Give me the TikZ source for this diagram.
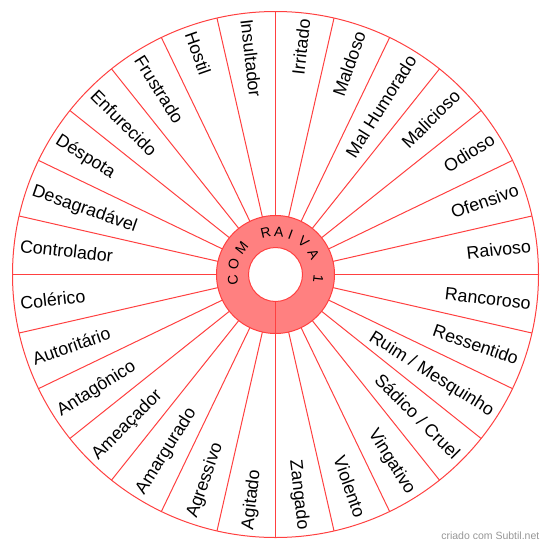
\documentclass[tikz,border=0pt]{standalone}
\usepackage{fontspec}
\setmainfont{Liberation Sans}
\usetikzlibrary{calc}
\definecolor{wline}{RGB}{255,64,64}
\definecolor{wfill}{RGB}{255,128,128}
\definecolor{wmark}{RGB}{150,150,150}
\tikzset{
  spoke/.style={draw=wline, line width=1pt},
  rim/.style={draw=wline, line width=1pt},
  lbl/.style={inner sep=0pt, font=\fontsize{17.8}{20}\selectfont, text height=12.6pt, text depth=0pt},
  ringletter/.style={inner sep=0pt, font=\fontsize{14}{16}\selectfont}
}
\begin{document}
\begin{tikzpicture}[x=1pt,y=1pt]
\useasboundingbox (0,0) rectangle (550,-560);
\coordinate (c) at (275.5,-274.5);
% outer rim
\draw[rim] (c) circle (263);
% spokes
\foreach \k in {0,...,27}{
  \pgfmathsetmacro{\a}{90-\k*360/28}
  \draw[spoke] ($(c)+(\a:59)$) -- ($(c)+(\a:263)$);
}
% labels
\foreach \t [count=\i] in {Irritado,Maldoso,Mal Humorado,Malicioso,Odioso,Ofensivo,Raivoso,Rancoroso,Ressentido,Ruim / Mesquinho,Sádico / Cruel,Vingativo,Violento,Zangado,Agitado,Agressivo,Amargurado,Ameaçador,Antagônico,Autoritário,Colérico,Controlador,Desagradável,Déspota,Enfurecido,Frustrado,Hostil,Insultador}{
  \pgfmathsetmacro{\a}{90-(\i-0.5)*360/28}
  \ifnum\i<15
    \node[lbl, anchor=east, rotate=\a] (l\i) at ($(c)+(\a:257)$) {\t};
  \else
    \pgfmathsetmacro{\b}{\a+180}
    \node[lbl, anchor=west, rotate=\b] (l\i) at ($(c)+(\a:257)$) {\t};
  \fi
}
% centre ring
\draw[rim, fill=wfill] (c) circle (59);
\draw[rim, fill=white] (c) circle (27);
\coordinate (ib) at ($(c)+(0,-27)$);
\coordinate (ob) at ($(c)+(0,-59)$);
\draw[spoke] (ib) -- (ob);
\foreach \ch/\ang [count=\j] in {C/187.4,O/166.5,M/141.5,R/103,A/85.6,I/69.5,V/49.3,A/28,1/-6}{
  \pgfmathsetmacro{\r}{\ang-90}
  \node[ringletter, rotate=\r] (r\j) at ($(c)+(\ang:43)$) {\ch};
}
% watermark
\node[inner sep=0pt, anchor=base east, text=wmark, font=\fontsize{10.5}{12}\selectfont] (wm) at (539.5,-539.5) {criado com Subtil.net};
\end{tikzpicture}
\end{document}
